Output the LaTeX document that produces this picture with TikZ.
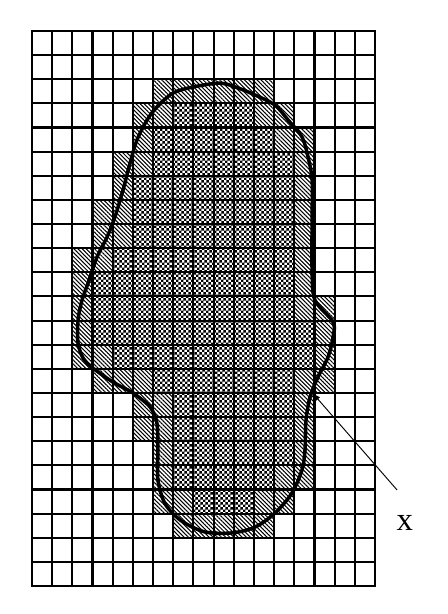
\documentclass[tikz,border=0pt]{standalone}
\usepackage{fontspec}
\setmainfont{Liberation Serif}
\usetikzlibrary{patterns,patterns.meta,arrows.meta}

% smulkus sachmatu rastas
\pgfdeclarepatternformonly{finechecker}{\pgfpointorigin}{\pgfqpoint{4.6pt}{4.6pt}}%
    {\pgfqpoint{4.6pt}{4.6pt}}{%
    \pgfpathrectangle{\pgfpointorigin}{\pgfqpoint{2.3pt}{2.3pt}}%
    \pgfpathrectangle{\pgfqpoint{2.3pt}{2.3pt}}{\pgfqpoint{2.3pt}{2.3pt}}%
    \pgfusepath{fill}}

\begin{document}
\begin{tikzpicture}[x=0.6054cm, y=-0.7239cm,
    gridline/.style={line width=1.8pt},
    hatch/.style={pattern={Lines[angle=-45,distance=2.5pt,line width=0.9pt]}},
    checker/.style={pattern=finechecker},
    boundary/.style={line width=3pt},
    pointer/.style={line width=0.8pt, -{Latex[length=7pt,width=5pt]}}]
    \useasboundingbox (-1.586,-1.285) rectangle (20.614,24.161);
    % vidiniai langeliai
    \foreach \r/\a/\b in {3/7/10, 4/6/11, 5/6/12, 6/5/12, 7/5/12, 8/5/12,
        9/4/12, 10/3/12, 11/3/12, 12/3/13, 13/4/13, 14/6/12, 15/7/12,
        16/7/12, 17/7/12, 18/7/11, 19/8/10}
        \fill[checker] (\a,\r) rectangle (\b+1,\r+1);
    % krastiniai langeliai
    \foreach \r/\cs in {2/{6,...,11}, 3/{5,6,11,12}, 4/{5,12,13}, 5/{4,5,13},
        6/{4,13}, 7/{3,4,13}, 8/{3,4,13}, 9/{2,3,13}, 10/{2,13}, 11/{2,13,14},
        12/{2,14}, 13/{2,3,14}, 14/{3,4,5,13,14}, 15/{5,6,13}, 16/{5,6,13},
        17/{6,13}, 18/{6,12,13}, 19/{6,7,11,12}, 20/{7,...,11}} {
        \foreach \c in \cs
            \fill[hatch] (\c,\r) rectangle ++(1,1);
    }
    % tinklelis
    \foreach \c in {0,...,17}
        \draw[gridline] (\c,0) -- (\c,23);
    \foreach \r in {0,...,23}
        \draw[gridline] (0,\r) -- (17,\r);
    \draw[gridline] (0,0) rectangle (17,23);
    % sritis
    \draw[boundary] plot[smooth cycle] coordinates {
        (6.24,18.60) (6.24,17.36) (6.19,16.25) (5.85,15.58) (5.00,15.00)
        (4.01,14.55) (3.02,13.97) (2.53,13.55) (2.28,12.93) (2.28,11.98)
        (2.48,11.15) (2.78,10.44) (3.22,9.37) (3.72,8.54) (4.11,7.71)
        (4.51,6.59) (4.86,5.47) (5.20,4.52) (5.70,3.69) (6.19,3.15)
        (6.99,2.57) (7.98,2.32) (9.32,2.16) (10.21,2.36) (11.05,2.65)
        (12.04,3.07) (12.69,3.69) (13.38,4.39) (13.68,5.22) (13.88,6.18)
        (13.88,7.83) (13.88,9.90) (14.02,11.15) (14.92,12.06) (14.92,12.68)
        (14.67,13.51) (14.17,14.34) (13.78,15.17) (13.58,16.12) (13.53,17.36)
        (13.38,18.19) (12.88,19.15) (12.04,19.98) (11.05,20.56) (9.91,20.80)
        (8.57,20.76) (7.40,20.30) (6.60,19.60)};
    % rodykle
    \coordinate (tip) at (13.9,15.0);
    \coordinate (tail) at (18.09,19.02);
    \draw[pointer] (tail) -- (tip);
    \node[font=\fontsize{28}{30}\selectfont] (xlabel) at (18.48,20.39) {x};
\end{tikzpicture}
\end{document}
